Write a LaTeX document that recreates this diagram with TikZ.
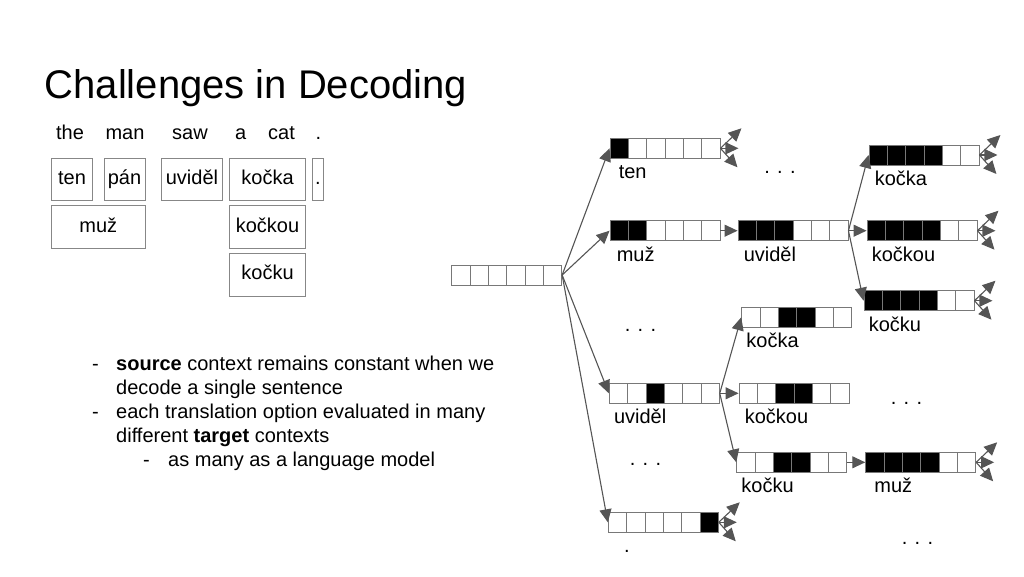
\documentclass[tikz,border=0pt]{standalone}
\usepackage{fontspec}
\setmainfont{Liberation Sans}
\usetikzlibrary{arrows.meta,positioning}
\definecolor{cellgray}{RGB}{120,120,120}
\definecolor{boxgray}{RGB}{135,135,135}
\definecolor{arrowgray}{RGB}{85,85,85}
\newcommand{\lblfont}{\fontsize{20}{24}\selectfont}

% hypothesis: name, left x, top y, first and last black cell
\newcommand{\hypo}[5]{%
  \fill[black] (#2+#4*18.33-18.33,#3) rectangle (#2+#5*18.33,#3+20);
  \foreach \k in {1,...,5} {\draw[cell] (#2+\k*18.33,#3) -- (#2+\k*18.33,#3+20);}
  \node[hypbox] (#1) at (#2+55,#3+10) {};
}
% label under a hypothesis
\newcommand{\hlabel}[3]{\node[lbl, anchor=base west] (#1-l) at ([shift={(#2,20)}]#1.south west) {#3};}
% three open expansions
\newcommand{\fan}[1]{%
  \coordinate (#1-up) at ([shift={(21,-20)}]#1.east);
  \coordinate (#1-mid) at ([shift={(18,0)}]#1.east);
  \coordinate (#1-dn) at ([shift={(17,19)}]#1.east);
  \draw[link] (#1.east) -- (#1-up);
  \draw[link] (#1.east) -- (#1-mid);
  \draw[link] (#1.east) -- (#1-dn);
}

\begin{document}
\begin{tikzpicture}[x=1pt,y=-1pt,
  cell/.style={draw=cellgray, line width=0.9pt},
  hypbox/.style={draw=cellgray, line width=0.9pt, minimum width=110pt, minimum height=20pt, inner sep=0pt},
  lbl/.style={font=\lblfont, inner sep=0pt},
  srcbox/.style={draw=boxgray, line width=0.9pt, font=\lblfont, minimum height=42.6pt, text height=10.4pt, text depth=0pt, inner sep=0pt},
  link/.style={draw=arrowgray, line width=1.1pt, -{Triangle[length=13pt,width=12pt]}},
  dots/.style={font=\lblfont, inner sep=0pt}]
\useasboundingbox (0,0) rectangle (1024,576);

% Title
\node[anchor=base west, font=\fontsize{40}{48}\selectfont, inner sep=0pt] (title) at (44.5,98.3) {Challenges in Decoding};

% source words
\node[lbl, anchor=base] (w1) at (70,139) {the};
\node[lbl, anchor=base] (w2) at (125,139) {man};
\node[lbl, anchor=base] (w3) at (190,139) {saw};
\node[lbl, anchor=base] (w4) at (240.7,139) {a};
\node[lbl, anchor=base] (w5) at (281.5,139) {cat};
\node[lbl, anchor=base] (w6) at (318.5,139) {.};

% translation options
\node[srcbox, minimum width=40.6pt] (o-ten) at (72,179.3) {ten};
\node[srcbox, minimum width=41pt] (o-pan) at (124.5,179.3) {pán};
\node[srcbox, minimum width=60.6pt] (o-uvidel) at (192,179.3) {uviděl};
\node[srcbox, minimum width=76.4pt] (o-kocka) at (267.5,179.3) {kočka};
\node[srcbox, minimum width=10.6pt] (o-stop) at (318,179.3) {.};
\node[srcbox, minimum width=93.3pt] (o-muz) at (98.35,227) {muž};
\node[srcbox, minimum width=76.4pt] (o-kockou) at (267.5,227) {kočkou};
\node[srcbox, minimum width=76.4pt] (o-kocku) at (267.5,274.7) {kočku};

% bullets
\node[lbl, anchor=base west] (d1) at (92,370) {-};
\node[lbl, anchor=base west] (b1a) at (116,370) {\textbf{source} context remains constant when we};
\node[lbl, anchor=base west] (b1b) at (116,394) {decode a single sentence};
\node[lbl, anchor=base west] (d2) at (92,418) {-};
\node[lbl, anchor=base west] (b2a) at (116,418) {each translation option evaluated in many};
\node[lbl, anchor=base west] (b2b) at (116,442) {different \textbf{target} contexts};
\node[lbl, anchor=base west] (d3) at (143,466) {-};
\node[lbl, anchor=base west] (b3a) at (168,466) {as many as a language model};

% search graph
\hypo{root}{451.7}{265}{1}{0}
\hypo{ten}{610}{138.3}{1}{1}
\hypo{muz}{610}{220.7}{1}{2}
\hypo{uvidel}{738}{220.7}{1}{3}
\hypo{kocka}{869}{145}{1}{4}
\hypo{kockou}{867}{220.7}{1}{4}
\hypo{kocku}{864}{290.7}{1}{4}
\hypo{uvidelB}{609.3}{383.3}{3}{3}
\hypo{kockaB}{741.7}{307.3}{3}{4}
\hypo{kockouB}{739}{383.3}{3}{4}
\hypo{kockuB}{736.7}{452.3}{3}{4}
\hypo{muzB}{865.7}{452.3}{1}{4}
\hypo{stop}{608.3}{512.3}{6}{6}

\hlabel{ten}{9}{ten}
\hlabel{muz}{7}{muž}
\hlabel{uvidel}{6}{uviděl}
\hlabel{kocka}{6}{kočka}
\hlabel{kockou}{5}{kočkou}
\hlabel{kocku}{5}{kočku}
\hlabel{uvidelB}{5}{uviděl}
\hlabel{kockaB}{5}{kočka}
\hlabel{kockouB}{6}{kočkou}
\hlabel{kockuB}{5}{kočku}
\hlabel{muzB}{9}{muž}
\hlabel{stop}{16}{.}

\draw[link] (root.east) -- (ten.west);
\draw[link] (root.east) -- (muz.west);
\draw[link] (root.east) -- (uvidelB.west);
\draw[link] (root.east) -- (stop.west);
\draw[link] (muz.east) -- (uvidel.west);
\draw[link] (uvidel.east) -- (kocka.west);
\draw[link] (uvidel.east) -- (kockou.west);
\draw[link] (uvidel.east) -- (kocku.west);
\draw[link] (uvidelB.east) -- (kockaB.west);
\draw[link] (uvidelB.east) -- (kockouB.west);
\draw[link] (uvidelB.east) -- (kockuB.west);
\draw[link] (kockuB.east) -- (muzB.west);

\fan{ten}
\fan{kocka}
\fan{kockou}
\fan{kocku}
\fan{muzB}
\fan{stop}

% ellipses
\node[dots] (e1) at (780,172) {. . .};
\node[dots] (e2) at (640.5,330) {. . .};
\node[dots] (e3) at (906.5,403) {. . .};
\node[dots] (e4) at (645.5,464) {. . .};
\node[dots] (e5) at (917.5,543) {. . .};
\end{tikzpicture}
\end{document}
